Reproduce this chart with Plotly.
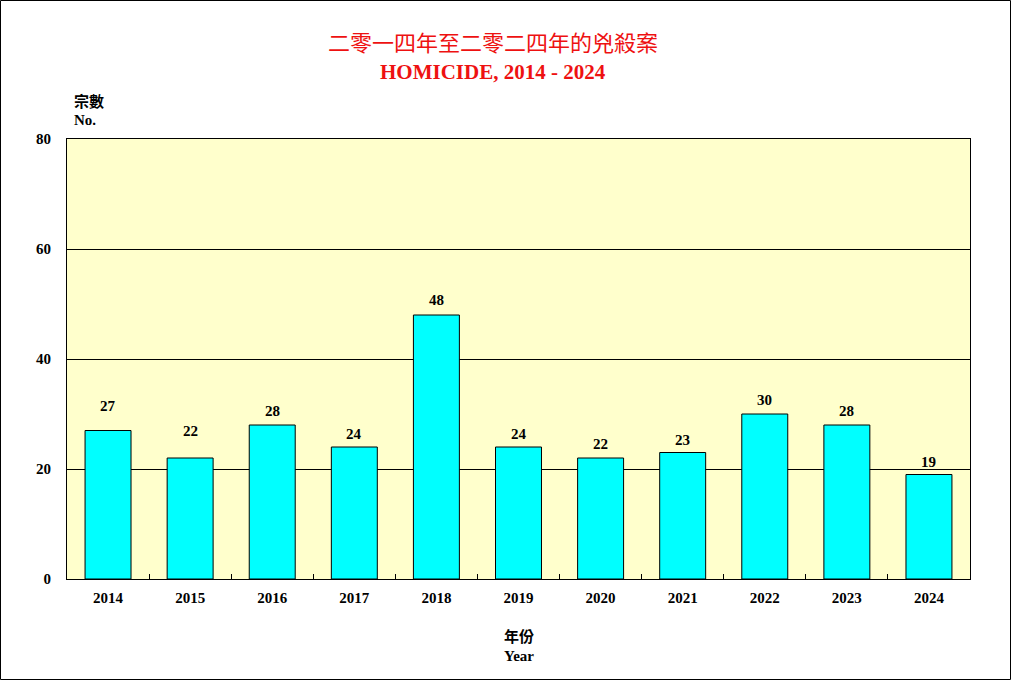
import plotly.graph_objects as go

years = ["2014", "2015", "2016", "2017", "2018", "2019", "2020", "2021", "2022", "2023", "2024"]
cases = [27, 22, 28, 24, 48, 24, 22, 23, 30, 28, 19]
label_shift = [25, 27, 14, 13, 15, 13, 14, 13, 14, 14, 13]
y_ticks = [0, 20, 40, 60, 80]

W, H = 1011, 680
L, R, T, B = 67, 41, 139, 101
pw, ph = W - L - R, H - T - B

def px(x):
    return (x - L) / pw

def py(y):
    return (H - B - y) / ph

serif = "Liberation Serif, Times New Roman, serif"
cjk = "Noto Sans CJK TC, Noto Sans CJK SC, sans-serif"

fig = go.Figure()
fig.add_trace(go.Bar(
    x=years, y=cases,
    marker=dict(color="#00FFFF", line=dict(color="black", width=1)),
    width=0.56,
    hoverinfo="skip",
))

annotations = []
for i, (v, s) in enumerate(zip(cases, label_shift)):
    annotations.append(dict(x=i, y=v, xref="x", yref="y", text=f"<b>{v}</b>",
                            showarrow=False, yshift=s, yanchor="middle",
                            font=dict(family=serif, size=15, color="black")))

annotations += [
    dict(x=px(493), y=py(41), xref="paper", yref="paper", text="二零一四年至二零二四年的兇殺案",
         showarrow=False, font=dict(family=cjk, size=22, color="#EE1111"), xanchor="center", yanchor="middle"),
    dict(x=px(493), y=py(72), xref="paper", yref="paper", text="<b>HOMICIDE, 2014 - 2024</b>",
         showarrow=False, font=dict(family=serif, size=21, color="#EE1111"), xanchor="center", yanchor="middle"),
    dict(x=px(72), y=py(100), xref="paper", yref="paper", text="<b>宗數</b>",
         showarrow=False, font=dict(family=cjk, size=15, color="black"), xanchor="left", yanchor="middle"),
    dict(x=px(72), y=py(120), xref="paper", yref="paper", text="<b>No.</b>",
         showarrow=False, font=dict(family=serif, size=15, color="black"), xanchor="left", yanchor="middle"),
    dict(x=px(519), y=py(635), xref="paper", yref="paper", text="<b>年份</b>",
         showarrow=False, font=dict(family=cjk, size=15, color="black"), xanchor="center", yanchor="middle"),
    dict(x=px(519), y=py(656), xref="paper", yref="paper", text="<b>Year</b>",
         showarrow=False, font=dict(family=serif, size=15, color="black"), xanchor="center", yanchor="middle"),
]

shapes = [dict(type="rect", xref="paper", yref="paper",
               x0=px(0.5), x1=px(W - 0.5), y0=py(H - 0.5), y1=py(0.5),
               line=dict(color="black", width=1), fillcolor="rgba(0,0,0,0)", layer="above")]

fig.update_layout(
    width=W, height=H,
    margin=dict(l=L, r=R, t=T, b=B),
    paper_bgcolor="white",
    plot_bgcolor="#FFFFCC",
    showlegend=False,
    bargap=0.45,
    annotations=annotations,
    shapes=shapes,
    xaxis=dict(
        type="category", range=[-0.5, len(years) - 0.5], tickangle=0,
        showline=True, linecolor="black", linewidth=1, mirror=True,
        ticks="inside", tickson="boundaries", ticklen=5, tickcolor="black",
        showgrid=False, ticklabelstandoff=5,
        tickfont=dict(family=serif, size=15, color="black", weight="bold"),
    ),
    yaxis=dict(
        range=[0, 80], tickvals=y_ticks,
        showline=True, linecolor="black", linewidth=1, mirror=True,
        showgrid=True, gridcolor="black", gridwidth=1,
        zeroline=False, ticks="", ticklabelstandoff=12,
        tickfont=dict(family=serif, size=15, color="black", weight="bold"),
    ),
)

fig.write_html("out.html", config={"displayModeBar": False},
               post_script="document.body.style.margin='0';document.body.style.overflow='hidden';")
